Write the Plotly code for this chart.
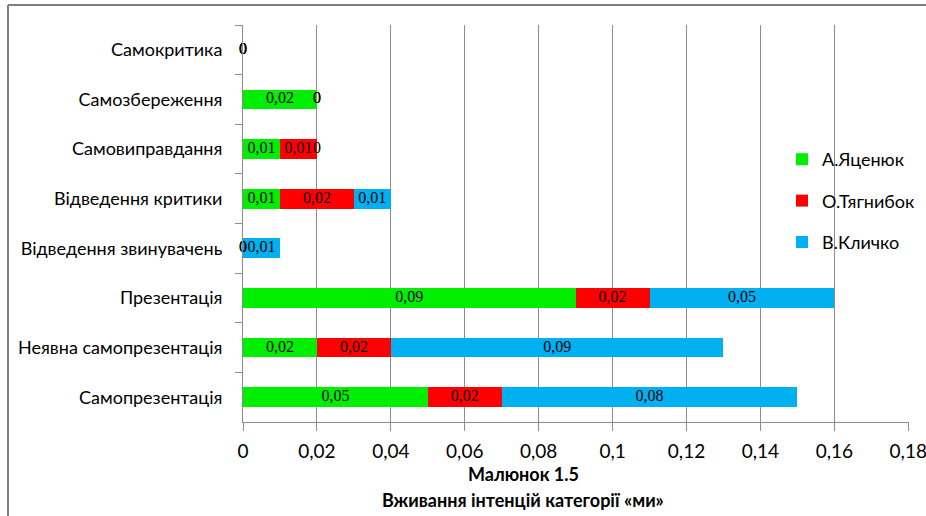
import plotly.graph_objects as go

categories = ["Самокритика", "Самозбереження", "Самовиправдання", "Відведення критики",
              "Відведення звинувачень", "Презентація", "Неявна самопрезентація", "Самопрезентація"]
yatsenyuk = [0, 0.02, 0.01, 0.01, 0, 0.09, 0.02, 0.05]
tyahnybok = [0, 0, 0.01, 0.02, 0, 0.02, 0.02, 0.02]
klychko = [0, 0, 0, 0.01, 0.01, 0.05, 0.09, 0.08]
series_names = ["А.Яценюк", "О.Тягнибок", "В.Кличко"]
series_colors = ["#00EE00", "#FF0000", "#00B0F0"]
x_ticks = [0, 0.02, 0.04, 0.06, 0.08, 0.1, 0.12, 0.14, 0.16, 0.18]

series = [yatsenyuk, tyahnybok, klychko]

fig = go.Figure()
for i, (name, vals, col) in enumerate(zip(series_names, series, series_colors)):
    fig.add_trace(go.Bar(
        y=categories, x=vals, name=name, orientation="h",
        marker=dict(color=col, line=dict(width=0)),
        legendgroup=name, legendrank=i + 1,
    ))

# value labels centred in each segment (computed from the data)
lab_x, lab_y, lab_t = [], [], []
base = [0.0] * len(categories)
for vals in series:
    for j, v in enumerate(vals):
        lab_x.append(base[j] + v / 2)
        lab_y.append(categories[j])
        lab_t.append(f"{v:g}".replace(".", ","))
        base[j] += v
fig.add_trace(go.Scatter(
    x=lab_x, y=lab_y, text=lab_t, mode="text", showlegend=False, hoverinfo="skip",
    textfont=dict(family="Liberation Serif", size=16, color="#000000"),
    textposition="middle center", cliponaxis=False,
))

L, T, R, B = 243, 25, 909, 422
W = R - L
H = B - T

fig.update_layout(
    width=926, height=516,
    barmode="stack", bargap=0.6,
    separators=", ",
    paper_bgcolor="white", plot_bgcolor="white",
    margin=dict(l=L, r=926 - R, t=T, b=516 - B, autoexpand=False),
    font=dict(family="Lato", size=16, color="#000000"),
    showlegend=True,
    legend=dict(
        x=(782 - L) / W, y=(B - 141) / H, xanchor="left", yanchor="top",
        bgcolor="rgba(0,0,0,0)", traceorder="grouped", tracegroupgap=15,
        font=dict(family="Lato", size=18, color="#000000"),
        itemwidth=30,
    ),
    xaxis=dict(
        range=[0, 0.1802], tickvals=x_ticks, tickformat="~g",
        showgrid=True, gridcolor="#8c8c8c", gridwidth=1,
        showline=True, linecolor="#8c8c8c", linewidth=1,
        ticks="outside", ticklen=8, tickcolor="#8c8c8c",
        zeroline=False, tickfont=dict(family="Lato", size=19, color="#000000"),
        ticklabelstandoff=4, ticklabeloverflow="allow", fixedrange=True,
    ),
    yaxis=dict(
        categoryorder="array", categoryarray=categories, autorange="reversed",
        showline=True, linecolor="#8c8c8c", linewidth=1,
        ticks="outside", ticklen=7, tickcolor="#8c8c8c", tickson="boundaries",
        showgrid=False, tickfont=dict(family="Lato", size=18, color="#000000"),
        ticklabelstandoff=16, fixedrange=True,
    ),
    annotations=[
        dict(text="<b>Малюнок 1.5</b>", x=(523 - L) / W, y=(B - 474) / H,
             xref="paper", yref="paper", showarrow=False, yanchor="middle", xanchor="center",
             font=dict(family="Lato", size=18, color="#000000")),
        dict(text="<b>Вживання інтенцій категорії «ми»</b>", x=(523 - L) / W, y=(B - 500) / H,
             xref="paper", yref="paper", showarrow=False, yanchor="middle", xanchor="center",
             font=dict(family="Lato", size=18, color="#000000")),
    ],
    shapes=[
        dict(type="line", xref="paper", yref="paper",
             x0=(8 - L) / W, x1=(930 - L) / W, y0=(B - 5) / H, y1=(B - 5) / H,
             line=dict(color="#7f7f7f", width=2)),
        dict(type="line", xref="paper", yref="paper",
             x0=(8 - L) / W, x1=(8 - L) / W, y0=(B - 5) / H, y1=(B - 520) / H,
             line=dict(color="#7f7f7f", width=2)),
    ],
)

fig.write_html("out.html", config={"displayModeBar": False},
               post_script="document.body.style.margin='0';document.body.style.overflow='hidden';")
